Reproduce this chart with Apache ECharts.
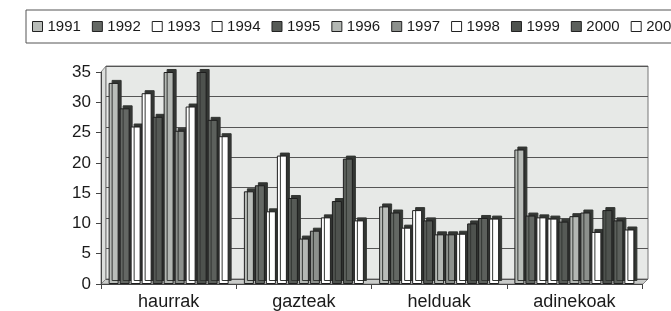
<!DOCTYPE html>
<html>
<head>
<meta charset="utf-8">
<script src="https://cdn.jsdelivr.net/npm/echarts@6/dist/echarts.min.js"></script>
<style>
  html, body { margin: 0; padding: 0; background: #fff; }
  #chart { width: 671px; height: 311px; }
</style>
</head>
<body>
<div id="chart"></div>
<script>
// adin taldeak
var categories = ['haurrak', 'gazteak', 'helduak', 'adinekoak'];
var years = ['1991', '1992', '1993', '1994', '1995', '1996', '1997', '1998', '1999', '2000', '2001'];
var yTicks = [0, 5, 10, 15, 20, 25, 30, 35];

// urte bakoitzeko balioak (haurrak, gazteak, helduak, adinekoak)
var v1991 = [33.2, 15.3, 12.8, 22.2];
var v1992 = [29.0, 16.3, 11.8, 11.3];
var v1993 = [26.0, 12.0, 9.3, 11.0];
var v1994 = [31.5, 21.2, 12.2, 10.8];
var v1995 = [27.6, 14.2, 10.5, 10.3];
var v1996 = [35.0, 7.5, 8.2, 11.2];
var v1997 = [25.3, 8.8, 8.2, 11.8];
var v1998 = [29.3, 11.0, 8.3, 8.6];
var v1999 = [35.0, 13.7, 10.0, 12.2];
var v2000 = [27.1, 20.7, 10.9, 10.5];
var v2001 = [24.4, 10.5, 10.8, 9.0];

var values = [v1991, v1992, v1993, v1994, v1995, v1996, v1997, v1998, v1999, v2000, v2001];
var colors = ['#b9bdb9', '#646864', '#ffffff', '#ffffff', '#565a56', '#b3b7b3',
              '#8c908c', '#ffffff', '#4e524e', '#5c605c', '#ffffff'];

var series = [];
for (var i = 0; i < years.length; i++) {
	series.push({
		name: years[i],
		type: 'bar',
		xAxisIndex: 0,
		yAxisIndex: 0,
		barWidth: 10,
		barGap: '10%',
		data: values[i],
		itemStyle: {
			color: colors[i],
			borderColor: '#1e1e1e',
			borderWidth: 1,
			shadowColor: '#333633',
			shadowBlur: 0,
			shadowOffsetX: 3,
			shadowOffsetY: -3
		}
	});
}

// atzeko horma (sare-lerroak)
series.push({
	type: 'bar',
	xAxisIndex: 1,
	yAxisIndex: 1,
	data: [],
	silent: true
});

var option = {
	animation: false,
	backgroundColor: '#ffffff',
	textStyle: { fontFamily: 'Liberation Sans, Arial, sans-serif' },
	legend: {
		data: years,
		left: 26,
		top: 10,
		width: 900,
		padding: [9, 6, 9, 6],
		borderColor: '#555',
		borderWidth: 1,
		itemWidth: 10,
		itemHeight: 10,
		itemGap: 11,
		icon: 'rect',
		itemStyle: { shadowColor: 'transparent', shadowOffsetX: 0, shadowOffsetY: 0, borderColor: '#222', borderWidth: 1 },
		textStyle: { fontSize: 15, lineHeight: 12, color: '#1a1a1a', fontFamily: 'Liberation Sans, Arial, sans-serif' }
	},
	grid: [
		{ left: 101, right: 29, top: 72, bottom: 27 },
		{ left: 106, right: 23, top: 66, bottom: 32, show: true, backgroundColor: '#e7e9e7', borderColor: '#777', borderWidth: 1, z: 0 }
	],
	xAxis: [
		{
			type: 'category',
			gridIndex: 0,
			data: categories,
			axisLine: { lineStyle: { color: '#444' } },
			axisTick: { show: true, length: 5, lineStyle: { color: '#444' } },
			axisLabel: { fontSize: 18, color: '#1a1a1a', margin: 9 }
		},
		{
			type: 'category',
			gridIndex: 1,
			data: categories,
			show: false
		}
	],
	yAxis: [
		{
			type: 'value',
			gridIndex: 0,
			min: 0,
			max: 35,
			interval: 5,
			axisLine: { show: true, lineStyle: { color: '#444' } },
			axisTick: { show: true, length: 5, lineStyle: { color: '#444' } },
			splitLine: { show: false },
			axisLabel: {
				fontSize: 17,
				color: '#1a1a1a',
				margin: 10,
				formatter: function(v) { return yTicks.indexOf(v) >= 0 ? v : ''; }
			}
		},
		{
			type: 'value',
			gridIndex: 1,
			min: 0,
			max: 35,
			interval: 5,
			axisLine: { show: false },
			axisTick: { show: false },
			axisLabel: { show: false },
			splitLine: { show: true, lineStyle: { color: '#555', width: 1 } }
		}
	],
	graphic: [{
		type: 'polygon',
		z: -1,
		shape: { points: [[101, 284], [106, 279], [648, 279], [643, 284]] },
		style: { fill: '#c9cbc9', stroke: '#888', lineWidth: 1 }
	}, {
		type: 'polygon',
		z: -1,
		shape: { points: [[101, 284], [106, 279], [106, 66], [101, 72]] },
		style: { fill: '#dcdedc', stroke: '#888', lineWidth: 1 }
	}],
	series: series
};

var chart = echarts.init(document.getElementById('chart'));
chart.setOption(option);
</script>
</body>
</html>
